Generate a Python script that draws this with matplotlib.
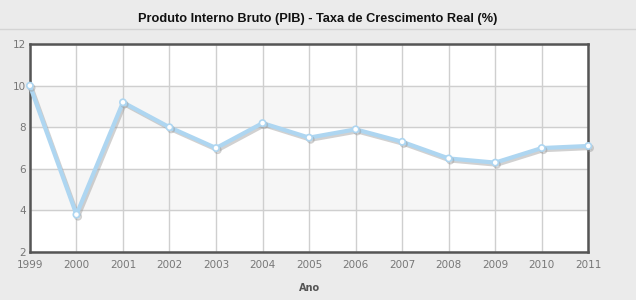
import matplotlib
matplotlib.use("Agg")
import matplotlib.pyplot as plt
import matplotlib.patheffects as pe

anos = [1999, 2000, 2001, 2002, 2003, 2004, 2005, 2006, 2007, 2008, 2009, 2010, 2011]
taxa = [10.0, 3.8, 9.2, 8.0, 7.0, 8.2, 7.5, 7.9, 7.3, 6.5, 6.3, 7.0, 7.1]
y_ticks = [2, 4, 6, 8, 10, 12]

fig = plt.figure(figsize=(6.36, 3.0), dpi=100)
fig.patch.set_facecolor("#ebebeb")

# title strip and separator line
fig.text(0.5, 0.937, "Produto Interno Bruto (PIB) - Taxa de Crescimento Real (%)",
         ha="center", va="center", fontsize=9.2, fontweight="bold",
         family="Liberation Sans", color="#111111")
fig.add_artist(plt.Line2D([0, 1], [0.905, 0.905], color="#d4d4d4", lw=1))

ax = fig.add_axes([0.047, 0.16, 0.878, 0.693])
ax.set_facecolor("white")

# alternating bands
for i in range(len(y_ticks) - 1):
    if i % 2 == 1:
        ax.axhspan(y_ticks[i], y_ticks[i + 1], color="#f6f6f6", zorder=0)

ax.set_xlim(anos[0], anos[-1])
ax.set_ylim(2, 12)
ax.set_xticks(anos)
ax.set_yticks(y_ticks)
ax.grid(True, color="#cfcfcf", lw=1, zorder=1)
ax.tick_params(colors="#777777", labelsize=7.5, length=0, pad=3)
ax.tick_params(axis="x", pad=6)
for s in ["left", "top", "right", "bottom"]:
    ax.spines[s].set_color("#555555")
    ax.spines[s].set_linewidth(1.8)

ax.plot(anos, taxa, color="#aed6f1", lw=3, zorder=3, clip_on=False,
        marker="o", markersize=4.5, markerfacecolor="white",
        markeredgecolor="#aed6f1", markeredgewidth=1.2,
        path_effects=[pe.SimpleLineShadow(offset=(1.2, -1.5), shadow_color="#999999", alpha=0.45),
                      pe.Normal()])

ax.set_xlabel("Ano", fontsize=7, fontweight="bold", color="#555555", labelpad=9)

fig.savefig("out.png", dpi=100, facecolor=fig.get_facecolor())
